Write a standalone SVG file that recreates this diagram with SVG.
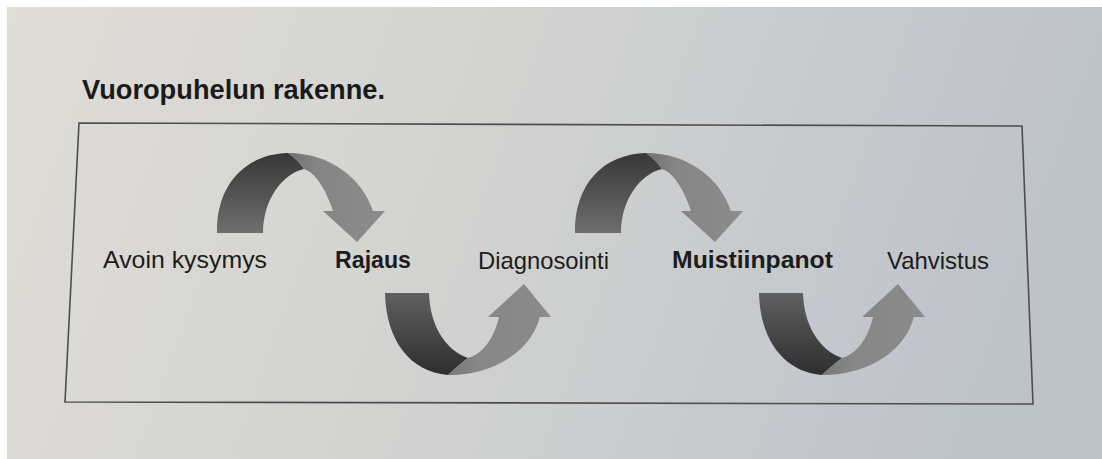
<svg xmlns="http://www.w3.org/2000/svg" width="1102" height="459" viewBox="0 0 1102 459">
  <defs>
    <linearGradient id="page" x1="0" y1="0" x2="1" y2="0.15">
      <stop offset="0" stop-color="#dfddd7"/>
      <stop offset="0.45" stop-color="#d3d3d1"/>
      <stop offset="1" stop-color="#bec3ca"/>
    </linearGradient>
    <linearGradient id="darkUp" gradientUnits="userSpaceOnUse" x1="0" y1="233" x2="0" y2="153">
      <stop offset="0" stop-color="#6e6e6e"/>
      <stop offset="1" stop-color="#373737"/>
    </linearGradient>
    <linearGradient id="darkDown" gradientUnits="userSpaceOnUse" x1="0" y1="293" x2="0" y2="375">
      <stop offset="0" stop-color="#606060"/>
      <stop offset="1" stop-color="#2e2e2e"/>
    </linearGradient>
    <linearGradient id="lightUp" gradientUnits="userSpaceOnUse" x1="288" y1="0" x2="385" y2="0">
      <stop offset="0" stop-color="#6f6f6f"/>
      <stop offset="0.3" stop-color="#858585"/>
      <stop offset="1" stop-color="#8c8c8c"/>
    </linearGradient>
    <linearGradient id="lightDown" gradientUnits="userSpaceOnUse" x1="448" y1="0" x2="551" y2="0">
      <stop offset="0" stop-color="#777777"/>
      <stop offset="0.3" stop-color="#878787"/>
      <stop offset="1" stop-color="#8a8a8a"/>
    </linearGradient>
    <g id="over">
      <path fill="url(#darkUp)" d="M217,233 C216,185 245,154 288,153 Q298,160 304,169 C282,174 263,200 263,233 Z"/>
      <path fill="url(#lightUp)" d="M288,153 C330,153 362,178 373,211 L385,211 L357,242 L323,211 L333,211 C326,190 316,173 304,169 Q298,160 288,153 Z"/>
    </g>
    <g id="under">
      <path fill="url(#darkDown)" d="M385,293 L429,293 C430,325 445,350 468,358 Q455,368 448,375 C410,372 386,340 385,293 Z"/>
      <path fill="url(#lightDown)" d="M448,375 C480,376 528,360 540,317 L551,317 L524,284 L488,317 L499,317 C494,338 483,354 468,358 Q455,368 448,375 Z"/>
    </g>
  </defs>
  <style>
    .lbl { font-family: "Liberation Sans", Arial, sans-serif; font-size: 24px; fill: #1c1c1c; }
    .b { font-weight: bold; }
    .title { font-family: "Liberation Sans", Arial, sans-serif; font-size: 27px; font-weight: bold; fill: #1a1a1a; }
    .frame { fill: none; stroke: #4e4e50; stroke-width: 1.6; }
  </style>

  <rect x="0" y="0" width="1102" height="459" fill="#ffffff"/>
  <rect x="7" y="7" width="1095" height="452" fill="url(#page)"/>

  <text class="title" x="82" y="99" textLength="303" lengthAdjust="spacingAndGlyphs">Vuoropuhelun rakenne.</text>

  <polygon class="frame" points="79,123 1022,126 1033,404 65,402"/>

  <g id="connectors">
    <use href="#over"/>
    <use href="#under"/>
    <use href="#over" transform="translate(358,0)"/>
    <use href="#under" transform="translate(374,0)"/>
  </g>

  <g id="node-avoin"><text class="lbl" x="103" y="268" textLength="164" lengthAdjust="spacingAndGlyphs">Avoin kysymys</text></g>
  <g id="node-rajaus"><text class="lbl b" x="335" y="268" textLength="76" lengthAdjust="spacingAndGlyphs">Rajaus</text></g>
  <g id="node-diagnosointi"><text class="lbl" x="478" y="269" textLength="131" lengthAdjust="spacingAndGlyphs">Diagnosointi</text></g>
  <g id="node-muistiinpanot"><text class="lbl b" x="672" y="268" textLength="161" lengthAdjust="spacingAndGlyphs">Muistiinpanot</text></g>
  <g id="node-vahvistus"><text class="lbl" x="887" y="269" textLength="102" lengthAdjust="spacingAndGlyphs">Vahvistus</text></g>
</svg>
